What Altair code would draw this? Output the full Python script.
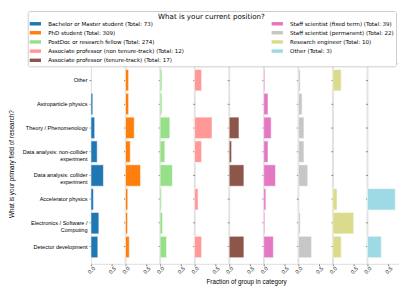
import altair as alt
import pandas as pd

fields = [
    "Other",
    "Astroparticle physics",
    "Theory / Phenomenology",
    "Data analysis: non-collider\nexperiment",
    "Data analysis: collider\nexperiment",
    "Accelerator physics",
    "Electronics / Software /\nComputing",
    "Detector development",
]

positions = [
    "Bachelor or Master student (Total: 73)",
    "PhD student (Total: 309)",
    "PostDoc or research fellow (Total: 274)",
    "Associate professor (non tenure-track) (Total: 12)",
    "Associate professor (tenure-track) (Total: 17)",
    "Staff scientist (fixed term) (Total: 39)",
    "Staff scientist (permanent) (Total: 22)",
    "Research engineer (Total: 10)",
    "Other (Total: 3)",
]

colors = ["#1f77b4", "#ff7f0e", "#98df8a", "#ff9896", "#8c564b",
          "#e377c2", "#c7c7c7", "#dbdb8d", "#9edae5"]

bachelor = [0.0, 0.045, 0.09, 0.15, 0.30, 0.06, 0.19, 0.165]
phd = [0.075, 0.075, 0.21, 0.115, 0.36, 0.055, 0.05, 0.09]
postdoc = [0.045, 0.045, 0.235, 0.115, 0.295, 0.035, 0.06, 0.155]
assoc_non = [0.167, 0.0, 0.417, 0.167, 0.0, 0.083, 0.0, 0.167]
assoc_ten = [0.0, 0.0, 0.235, 0.059, 0.353, 0.0, 0.0, 0.353]
staff_fixed = [0.026, 0.103, 0.179, 0.103, 0.282, 0.051, 0.026, 0.231]
staff_perm = [0.045, 0.091, 0.136, 0.136, 0.227, 0.0, 0.045, 0.318]
research_eng = [0.2, 0.0, 0.0, 0.0, 0.0, 0.1, 0.5, 0.2]
other = [0.0, 0.0, 0.0, 0.0, 0.0, 0.667, 0.0, 0.333]

series = [bachelor, phd, postdoc, assoc_non, assoc_ten,
          staff_fixed, staff_perm, research_eng, other]

FONT = "DejaVu Sans"
PW = 34.25
PH = 203

legend = alt.Legend(
    title="What is your current position?",
    orient="none", legendX=-64, legendY=-53,
    columns=2, columnPadding=88, rowPadding=2.3,
    symbolType="M-1.9,-0.58H1.9V0.58H-1.9Z", symbolSize=36,
    symbolOffset=2.7, symbolStrokeWidth=0, symbolOpacity=1,
    labelFontSize=5.6, labelFont=FONT, labelLimit=300, labelOffset=10,
    labelColor="black",
    titleFontSize=7.2, titleFont=FONT, titleFontWeight="normal", titleColor="black",
    titleAnchor="middle", titleLimit=400, titlePadding=0.5,
    strokeColor="#cccccc", fillColor="white", padding=2, cornerRadius=2,
)

panels = []
for i, pos in enumerate(positions):
    rows = [{"position": pos, "field": f, "value": v}
            for f, v in zip(fields, series[i]) if v > 0]
    df = pd.DataFrame(rows)
    if i == 0:
        yaxis = alt.Axis(
            title="What is your primary field of research?",
            labelExpr="split(datum.label, '\\n')",
            labelFontSize=5.6, labelLineHeight=7, labelPadding=2,
            labelLimit=300, tickSize=2, domain=False,
            titleFontSize=6.4, titleFontWeight="normal",
            titleX=-80.5, titleY=PH / 2, titleAngle=270,
            titleAlign="center", titleBaseline="middle",
        )
    else:
        yaxis = alt.Axis(title=None, labels=False, ticks=True, tickSize=2, domain=False)
    if i == 4:
        xaxis = alt.Axis(
            values=[0, 0.5], format=".1f", labelAngle=315, labelAlign="center",
            labelBaseline="middle", labelPadding=4, tickSize=2, domain=False,
            grid=False, labelFontSize=5.6,
            title="Fraction of group in category",
            titleFontSize=6.4, titleFontWeight="normal",
            titleX=PW / 2, titleY=17.7, titleAlign="center", titleBaseline="middle",
        )
    else:
        xaxis = alt.Axis(
            values=[0, 0.5], format=".1f", labelAngle=315, labelAlign="center",
            labelBaseline="middle", labelPadding=4, tickSize=2, domain=False,
            grid=False, labelFontSize=5.6, title=None,
        )
    ch = alt.Chart(df).mark_bar(stroke="white", strokeWidth=0.8, strokeOpacity=0.7).encode(
        y=alt.Y("field:N", sort=fields,
                scale=alt.Scale(domain=fields, paddingInner=0.1, paddingOuter=0.255),
                axis=yaxis),
        x=alt.X("value:Q", scale=alt.Scale(domain=[0, 0.81], nice=False, zero=True),
                axis=xaxis),
        color=alt.Color("position:N",
                        scale=alt.Scale(domain=positions, range=colors),
                        legend=legend),
    ).properties(width=PW, height=PH)
    panels.append(ch)

chart = alt.hconcat(*panels, spacing=0, bounds="flush").properties(
    autosize=alt.AutoSizeParams(type="none"),
    padding={"left": 84, "top": 53, "right": 312, "bottom": 225},
).configure_view(
    stroke="#666666", strokeWidth=1
).configure_axis(
    labelFont=FONT, titleFont=FONT, labelColor="black", titleColor="black",
    tickColor="#444444", tickWidth=0.8,
).configure(background="white")

chart.save("out.html", embed_options={"renderer": "svg", "actions": False})
